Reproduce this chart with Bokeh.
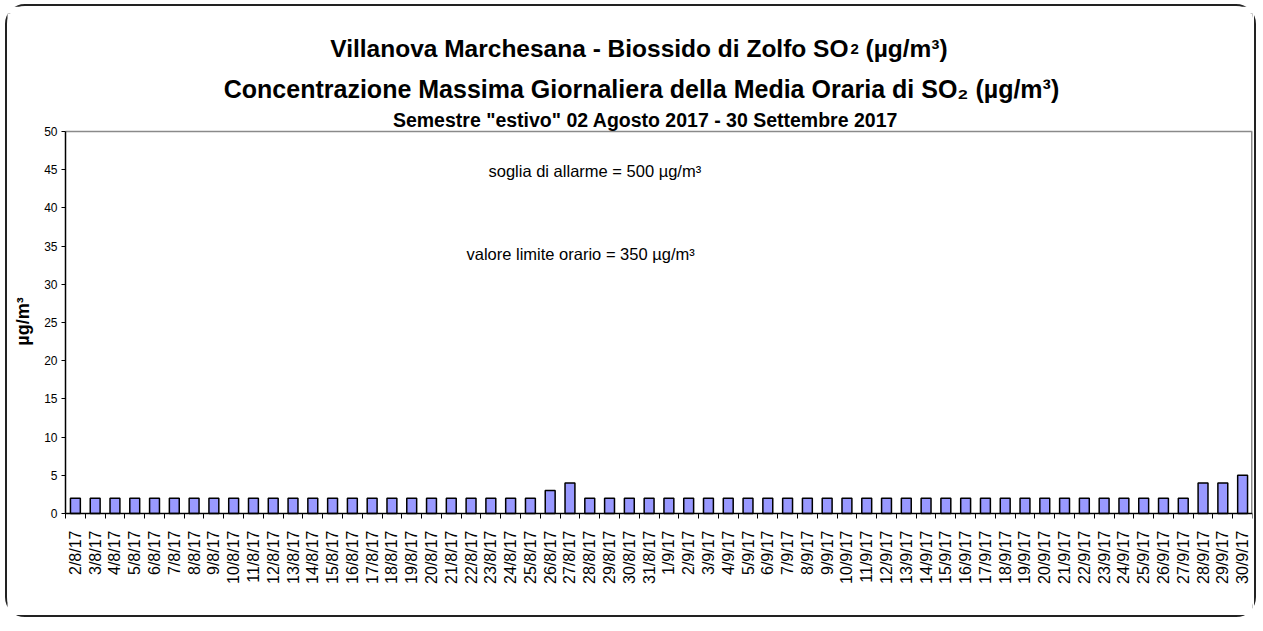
import math
from bokeh.plotting import figure
from bokeh.models import Label, FixedTicker, Range1d
from bokeh.embed import file_html
from bokeh.resources import INLINE

# ---- data ----
days_aug = [f"{d}/8/17" for d in range(2, 32)]
days_sep = [f"{d}/9/17" for d in range(1, 31)]
dates = days_aug + days_sep
values = [2, 2, 2, 2, 2, 2, 2, 2, 2, 2,
          2, 2, 2, 2, 2, 2, 2, 2, 2, 2,
          2, 2, 2, 2, 3, 4, 2, 2, 2, 2,
          2, 2, 2, 2, 2, 2, 2, 2, 2, 2,
          2, 2, 2, 2, 2, 2, 2, 2, 2, 2,
          2, 2, 2, 2, 2, 2, 2, 4, 4, 5]
y_ticks = [0, 5, 10, 15, 20, 25, 30, 35, 40, 45, 50]
y_max = 50
title1a = "Villanova Marchesana - Biossido di Zolfo SO"
title1b = "2"
title1c = "(µg/m³)"
title2 = "Concentrazione Massima Giornaliera della Media Oraria di SO₂ (µg/m³)"
title3 = "Semestre \"estivo\" 02 Agosto 2017 - 30 Settembre 2017"
note1 = "soglia di allarme = 500 µg/m³"
note2 = "valore limite orario = 350 µg/m³"
y_label = "µg/m³"

FONT = "Liberation Sans"
W, H = 1251, 613
n = len(dates)
xs = list(range(n))

# page-pixel geometry of the value area (0..50) and of the frame
PLOT_LEFT, PLOT_RIGHT = 66, 1253
VAL_TOP, VAL_BOTTOM = 132, 514
FRAME_TOP, FRAME_LEFT, FRAME_BOTTOM = 14, 8, 619
MB_TOP, MB_LEFT, MB_RIGHT = 7, 0, 6
MB_BOTTOM = 7 + H - FRAME_BOTTOM
px_per_unit = (VAL_BOTTOM - VAL_TOP) / y_max
px_per_cat = (PLOT_RIGHT - PLOT_LEFT) / n
y_top = (VAL_BOTTOM - FRAME_TOP) / px_per_unit
y_start = -(FRAME_BOTTOM - VAL_BOTTOM) / px_per_unit
x_start = -0.5 - (PLOT_LEFT - FRAME_LEFT) / px_per_cat


def px_x(px):
    return (px - PLOT_LEFT) / px_per_cat - 0.5


def px_y(py):
    return (VAL_BOTTOM - py) / px_per_unit


p = figure(width=W, height=H, output_backend="svg", toolbar_location=None,
           x_range=Range1d(x_start, n - 0.5), y_range=Range1d(y_start, y_top),
           min_border_left=MB_LEFT, min_border_right=MB_RIGHT,
           min_border_top=MB_TOP, min_border_bottom=MB_BOTTOM)
p.styles = {"border": "2px solid #222", "border-radius": "20px",
            "margin-left": "5px", "margin-top": "4px"}
p.outline_line_color = None
p.xgrid.visible = False
p.ygrid.visible = False

# plot-area border (top and right), grey like the reference
p.segment(x0=[-0.5, n - 0.5], y0=[y_max, 0], x1=[n - 0.5, n - 0.5],
          y1=[y_max, y_max], line_color="#8a8a8a", line_width=[1.5, 3])

p.vbar(x=xs, top=values, bottom=0, width=0.5, fill_color="#9999FF",
       line_color="#000000", line_width=1.5)

xa = p.xaxis[0]
xa.fixed_location = 0
xa.bounds = (-0.5, n - 0.5)
xa.ticker = FixedTicker(ticks=xs, minor_ticks=[i - 0.5 for i in range(n + 1)])
xa.major_label_overrides = {i: d for i, d in enumerate(dates)}
xa.major_label_orientation = math.pi / 2
xa.major_tick_out = 0
xa.major_tick_in = 0
xa.minor_tick_out = 5
xa.minor_tick_in = 0
xa.minor_tick_line_color = "#000000"
xa.axis_line_color = "#000000"
xa.axis_line_width = 1.5
xa.major_label_text_font = FONT
xa.major_label_text_font_size = "16px"
xa.major_label_text_color = "#000000"
xa.major_label_standoff = 12

ya = p.yaxis[0]
ya.fixed_location = -0.5
ya.bounds = (0, y_max)
ya.ticker = FixedTicker(ticks=y_ticks)
ya.minor_tick_line_color = None
ya.major_tick_out = 4
ya.major_tick_in = 0
ya.axis_line_color = "#000000"
ya.axis_line_width = 1.5
ya.major_label_text_font = FONT
ya.major_label_text_font_size = "12px"
ya.major_label_text_color = "#000000"
ya.major_label_standoff = 4

SHIFT = 7  # baseline correction (page px)


def tlabel(text, page_x, page_y, size, align="center", style="bold",
           baseline="alphabetic", angle=0.0):
    p.add_layout(Label(x=px_x(page_x), y=px_y(page_y), text=text, angle=angle,
                       text_font=FONT, text_font_size=size, text_font_style=style,
                       text_align=align, text_baseline=baseline,
                       text_color="#000000"))


tlabel(title1a, 849, 56 - SHIFT, "24.5px", align="right")
tlabel(title1b, 851, 56 - SHIFT, "15px", align="left")
tlabel(title1c, 866, 56 - SHIFT, "24.5px", align="left")
tlabel(title2, 642, 96 - SHIFT, "25px")
tlabel(title3, 646, 127 - SHIFT, "19.5px")

# notes inside the plot
tlabel(note1, 489, 178 - SHIFT, "16.5px", align="left", style="normal")
tlabel(note2, 467, 261 - SHIFT, "16.5px", align="left", style="normal")

# y-axis title
tlabel(y_label, 23, 322, "18px", baseline="middle", angle=math.pi / 2)

open("out.html", "w").write(file_html(p, INLINE))
